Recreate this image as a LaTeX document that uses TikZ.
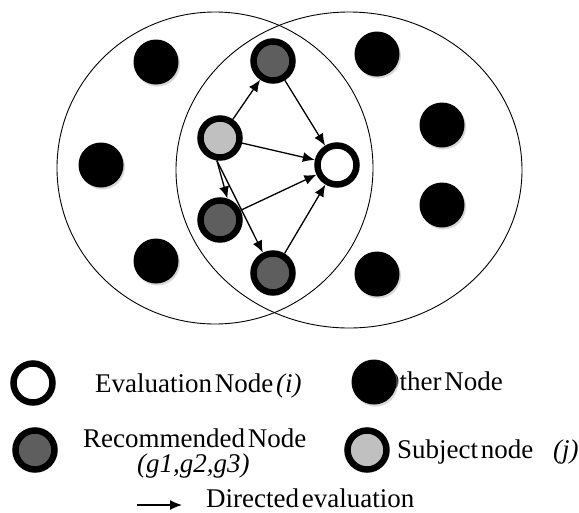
\documentclass[tikz,border=0pt]{standalone}
\usepackage{fontspec}
\setmainfont{Liberation Serif}[WordSpace=0.4]
\usetikzlibrary{shadows,arrows.meta}
\definecolor{recgray}{HTML}{5E5E5E}
\definecolor{subjgray}{HTML}{C0C0C0}
\begin{document}
\begin{tikzpicture}[x=1pt,y=-1pt,
  softshadow/.style={drop shadow={shadow xshift=1.5pt,shadow yshift=-2pt,fill=black!30}},
  other/.style={circle,fill=black,minimum size=45pt,inner sep=0pt,softshadow},
  ring/.style={circle,draw=black,line width=6.5pt,minimum size=39pt,inner sep=0pt,softshadow},
  evalnode/.style={ring,fill=white},
  recnode/.style={ring,fill=recgray},
  subjnode/.style={ring,fill=subjgray},
  zone/.style={draw=black,line width=0.9pt},
  evalarrow/.style={-{Latex[length=12pt,width=10pt]},line width=1.3pt},
  legendtext/.style={anchor=base west,inner sep=0pt,font=\fontsize{27}{30}\selectfont}
]
\useasboundingbox (0,0) rectangle (579,512);

% the two overlapping groups
\draw[zone] (215,168) ellipse [x radius=158pt, y radius=156pt];
\draw[zone] (349,170) ellipse [x radius=173pt, y radius=158pt];

% other nodes, left group
\node[other] (oL1) at (156,62) {};
\node[other] (oL2) at (101,165) {};
\node[other] (oL3) at (156,261) {};
% other nodes, right group
\node[other] (oR1) at (377,54) {};
\node[other] (oR2) at (442,125) {};
\node[other] (oR3) at (442,205) {};
\node[other] (oR4) at (377,274) {};

% nodes in the shared area
\node[recnode]  (g1)   at (273,61)  {};
\node[subjnode] (subj) at (220,138) {};
\node[evalnode] (eval) at (337,165) {};
\node[recnode]  (g2)   at (220,220) {};
\node[recnode]  (g3)   at (273,273) {};

% directed evaluations
\draw[evalarrow] (subj) -- (g1);
\draw[evalarrow] (subj) -- (eval);
\draw[evalarrow] (subj.-98) -- (g2.71);
\draw[evalarrow] (subj.-98) -- (g3);
\draw[evalarrow] (g1) -- (eval);
\draw[evalarrow] (g2) -- (eval);
\draw[evalarrow] (g3) -- (eval);

% legend
\node[evalnode] (legEval) at (33,383) {};
\node[legendtext] (txtEval) at (95,392) {Evaluation Node \textit{(i)}};

\node[legendtext] (txtOther) at (380,390) {Other Node};
\node[other] (legOther) at (374,382) {};

\node[recnode] (legRec) at (35,450) {};
\node[legendtext] (txtRec) at (83,447) {Recommended Node};
\node[legendtext] (txtRecIds) at (137,472) {\textit{(g1,g2,g3)}};

\node[subjnode] (legSubj) at (367,450) {};
\node[legendtext] (txtSubj) at (397,458) {Subject node};
\node[legendtext] (txtSubjId) at (553,458) {\textit{(j)}};

\coordinate (arrStart) at (137,505);
\coordinate (arrEnd) at (182,505);
\draw[evalarrow] (arrStart) -- (arrEnd);
\node[legendtext] (txtArrow) at (206,507) {Directed evaluation};
\end{tikzpicture}
\end{document}
